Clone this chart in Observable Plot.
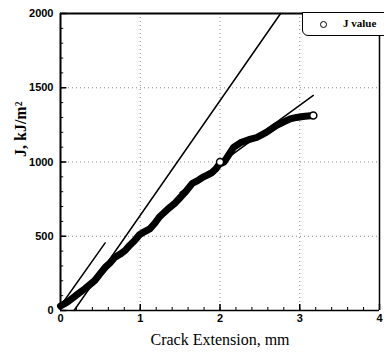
<!DOCTYPE html>
<html><head><meta charset="utf-8">
<script src="https://cdn.jsdelivr.net/npm/d3@7"></script>
<script src="https://cdn.jsdelivr.net/npm/@observablehq/plot@0.6"></script>
<style>
html,body{margin:0;padding:0;background:#fff;overflow:hidden;width:384px;height:355px;}
#wrap{position:relative;width:384px;height:355px;}
#legend{position:absolute;left:302px;top:12px;width:90px;height:24px;border:1.5px solid #000;border-bottom-left-radius:6px;background:#fff;box-sizing:border-box;}
#legend .c{position:absolute;left:17px;top:8px;width:5px;height:5px;border:1.2px solid #000;border-radius:50%;}
#legend .t{position:absolute;left:40px;top:4px;font:bold 11px "Liberation Serif",serif;}
</style></head>
<body><div id="wrap"><div id="legend"><span class="c"></span><span class="t">J value</span></div></div>
<script>
const xTicks = [0, 1, 2, 3, 4];
const yTicks = [0, 500, 1000, 1500, 2000];
const crackExt = [0.00,0.05,0.10,0.19,0.31,0.43,0.50,0.56,0.62,0.68,0.75,0.81,0.87,0.93,0.99,1.05,1.12,1.18,1.24,1.30,1.37,1.43,1.49,1.57,1.65,1.72,1.78,1.84,1.90,1.95,1.99,2.05,2.10,2.17,2.26,2.36,2.46,2.58,2.71,2.80,2.88,2.96,3.04,3.10,3.17];
const jValues  = [30,45,62,100,148,202,250,290,320,357,380,404,440,471,510,530,550,586,630,660,694,720,754,800,855,875,896,912,929,955,985,1000,1040,1098,1131,1150,1165,1199,1246,1270,1290,1300,1306,1310,1313];
const markerX = [2.0, 3.17];
const markerJ = [1000, 1313];
const bluntX = [0.0, 0.56];
const bluntJ = [30, 455];
const offsetX = [0.17, 2.76];
const offsetJ = [0, 2000];
const fitX = [1.5, 3.17];
const fitJ = [794, 1448];

const zip = (a, b) => a.map((v, i) => ({x: v, y: b[i]}));
const data = zip(crackExt, jValues);
const markers = zip(markerX, markerJ);
const xMinor = d3.range(0, 4.001, 0.2);
const yMinor = d3.range(0, 2000.1, 100);

const chart = Plot.plot({
  width: 384, height: 355,
  marginLeft: 60, marginRight: 5, marginTop: 13, marginBottom: 45,
  x: {domain: [0, 4]},
  y: {domain: [0, 2000]},
  style: {background: "#fff", overflow: "visible"},
  marks: [
    Plot.gridX([1, 2, 3], {stroke: "#888", strokeOpacity: 1, strokeDasharray: "1,3"}),
    Plot.gridY([500, 1000, 1500], {stroke: "#888", strokeOpacity: 1, strokeDasharray: "1,3"}),
    Plot.ruleX(xMinor, {y1: 0, y2: 20, stroke: "#000", strokeWidth: 1}),
    Plot.ruleX(xTicks, {y1: 0, y2: 40, stroke: "#000", strokeWidth: 1.5}),
    Plot.ruleY(yMinor, {x1: 0, x2: 0.04, stroke: "#000", strokeWidth: 1}),
    Plot.ruleY(yTicks, {x1: 0, x2: 0.08, stroke: "#000", strokeWidth: 1.5}),
    Plot.line(zip(bluntX, bluntJ), {x: "x", y: "y", stroke: "#000", strokeWidth: 1.5}),
    Plot.line(zip(offsetX, offsetJ), {x: "x", y: "y", stroke: "#000", strokeWidth: 1.5}),
    Plot.line(zip(fitX, fitJ), {x: "x", y: "y", stroke: "#000", strokeWidth: 1.5}),
    Plot.line(data, {x: "x", y: "y", stroke: "#000", strokeWidth: 7, strokeLinejoin: "round", strokeLinecap: "round"}),
    Plot.dot(markers, {x: "x", y: "y", r: 3.5, fill: "#fff", stroke: "#000", strokeWidth: 1.5}),
    Plot.ruleX([0], {stroke: "#000", strokeWidth: 2}),
    Plot.ruleX([4], {stroke: "#000", strokeWidth: 1.5}),
    Plot.ruleY([0], {stroke: "#000", strokeWidth: 1.5}),
    Plot.ruleY([2000], {stroke: "#000", strokeWidth: 2}),
    Plot.axisX({ticks: xTicks, tickFormat: d3.format("d"), tickSize: 0, tickPadding: 4, label: null, fontSize: 11, fontWeight: "bold", fontFamily: "Liberation Sans, Arial, sans-serif"}),
    Plot.axisY({ticks: yTicks, tickFormat: d3.format("d"), tickSize: 0, tickPadding: 7, label: null, fontSize: 11, fontWeight: "bold", fontFamily: "Liberation Sans, Arial, sans-serif"}),
    Plot.text(["Crack Extension, mm"], {frameAnchor: "bottom", dy: 34, fontSize: 16, fontFamily: "Liberation Serif, Times New Roman, serif", fill: "#000"}),
    Plot.text(["J, kJ/m²"], {frameAnchor: "left", dx: -40, dy: -5, rotate: -90, fontSize: 16, fontWeight: "bold", fontFamily: "Liberation Serif, Times New Roman, serif", fill: "#000"})
  ]
});
document.getElementById("wrap").prepend(chart);
</script>
</body></html>
